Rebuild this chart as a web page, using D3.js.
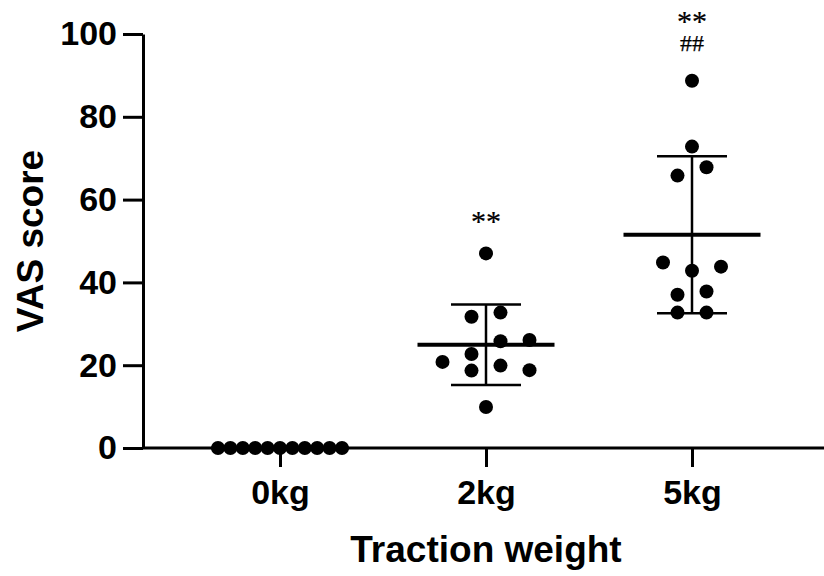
<!DOCTYPE html>
<html>
<head>
<meta charset="utf-8">
<script src="https://cdn.jsdelivr.net/npm/d3@7"></script>
<style>
  body { margin: 0; background: #fff; }
</style>
</head>
<body>
<svg width="824" height="576"></svg>
<script>
// values
var groups = ["0kg", "2kg", "5kg"]
var vas0kg = [0, 0, 0, 0, 0, 0, 0, 0, 0, 0, 0]
var vas2kg = [47, 31.7, 32.7, 22.7, 25.8, 26.1, 20.8, 18.7, 19.9, 18.8, 9.9]
var vas5kg = [88.7, 72.8, 65.8, 67.8, 44.8, 42.8, 43.8, 37.0, 37.8, 32.7, 32.7]
var yTicks = [0, 20, 40, 60, 80, 100]
var marks = [[], ["**"], ["**", "##"]]   // bottom line last

var series = [vas0kg, vas2kg, vas5kg]

var svg = d3.select("svg")
var width = 824, height = 576
var margin = ({top: 34, right: 0, bottom: 128, left: 143})

var x = d3.scalePoint()
    .domain(groups)
    .range([280, 692])

var y = d3.scaleLinear()
    .domain([0, 100])
    .range([height - margin.bottom, margin.top])

var r = 7, unit = 14.5, maxHalf = 62

// GraphPad-like scatter: bin values into rows, centre each row
function swarm(values) {
    var order = d3.range(values.length).sort((a, b) => values[a] - values[b] || a - b)
    var rows = []
    order.forEach(i => {
        var row = rows[rows.length - 1]
        if (!row || y(row.start) - y(values[i]) > unit) rows.push(row = {start: values[i], items: []})
        row.items.push(i)
    })
    var dx = [], prev = null
    rows.forEach(row => {
        row.items.sort(d3.ascending)
        var n = row.items.length
        var step = n > 1 ? Math.min(2 * unit, 2 * maxHalf / (n - 1)) : 0
        var shift = 0
        if (prev && (n - prev.items.length) % 2 &&
            y(d3.max(prev.items, i => values[i])) - y(d3.min(row.items, i => values[i])) < unit) shift = unit
        row.items.forEach((i, k) => dx[i] = (k - (n - 1) / 2) * step + shift)
        prev = row
    })
    return dx
}

// axes
var xAxis = svg.append("g")
    .attr("transform", `translate(0,${y(0)})`)
    .call(d3.axisBottom(x).tickSize(19).tickPadding(13).tickSizeOuter(0))
xAxis.select(".domain").attr("d", `M${margin.left},0H${width}`)

var yAxis = svg.append("g")
    .attr("transform", `translate(${margin.left},0)`)
    .call(d3.axisLeft(y).tickValues(yTicks).tickSize(20).tickPadding(6).tickSizeOuter(0))

svg.selectAll(".domain, .tick line")
    .attr("stroke", "#000")
    .attr("stroke-width", 3)
svg.selectAll(".tick text")
    .attr("fill", "#000")
    .attr("font-family", "'Liberation Sans', Arial, sans-serif")
    .attr("font-weight", "bold")
    .attr("font-size", "34px")

// axis titles
svg.append("text")
    .attr("x", x("2kg"))
    .attr("y", 562)
    .attr("text-anchor", "middle")
    .attr("font-family", "'Liberation Sans', Arial, sans-serif")
    .attr("font-weight", "bold")
    .attr("font-size", "37px")
    .text("Traction weight")

svg.append("text")
    .attr("transform", `translate(43,${(y(0) + y(100)) / 2}) rotate(-90)`)
    .attr("text-anchor", "middle")
    .attr("font-family", "'Liberation Sans', Arial, sans-serif")
    .attr("font-weight", "bold")
    .attr("font-size", "37px")
    .text("VAS score")

// dots, mean and SD
series.forEach((values, gi) => {
    var cx = x(groups[gi])
    var dx = swarm(values)
    var g = svg.append("g")

    g.selectAll("circle").data(values)
        .enter().append("circle")
        .attr("cx", (d, i) => cx + dx[i])
        .attr("cy", d => y(d))
        .attr("r", r)
        .attr("fill", "#000")

    var m = d3.mean(values), sd = d3.deviation(values) || 0

    g.append("line")
        .attr("x1", cx).attr("x2", cx)
        .attr("y1", y(m - sd)).attr("y2", y(m + sd))
        .attr("stroke", "#000").attr("stroke-width", 2.5)
    g.selectAll(".cap").data([m - sd, m + sd])
        .enter().append("line")
        .attr("class", "cap")
        .attr("x1", cx - 35).attr("x2", cx + 35)
        .attr("y1", d => y(d)).attr("y2", d => y(d))
        .attr("stroke", "#000").attr("stroke-width", 2.5)
    g.append("line")
        .attr("x1", cx - 68.5).attr("x2", cx + 68.5)
        .attr("y1", y(m)).attr("y2", y(m))
        .attr("stroke", "#000").attr("stroke-width", 4)

    // significance marks, stacked upward from the highest dot
    var base = y(d3.max(values)) - 22
    marks[gi].slice().reverse().forEach(t => {
        if (t == "##") base -= 8
        g.append("text")
            .attr("x", cx)
            .attr("y", base)
            .attr("text-anchor", "middle")
            .attr("font-family", "'Liberation Serif', 'Times New Roman', serif")
            .attr("font-size", t == "##" ? "24px" : "30px")
            .attr("stroke", "#000")
            .attr("stroke-width", 0.25)
            .text(t)
        base -= 20
    })
})
</script>
</body>
</html>
